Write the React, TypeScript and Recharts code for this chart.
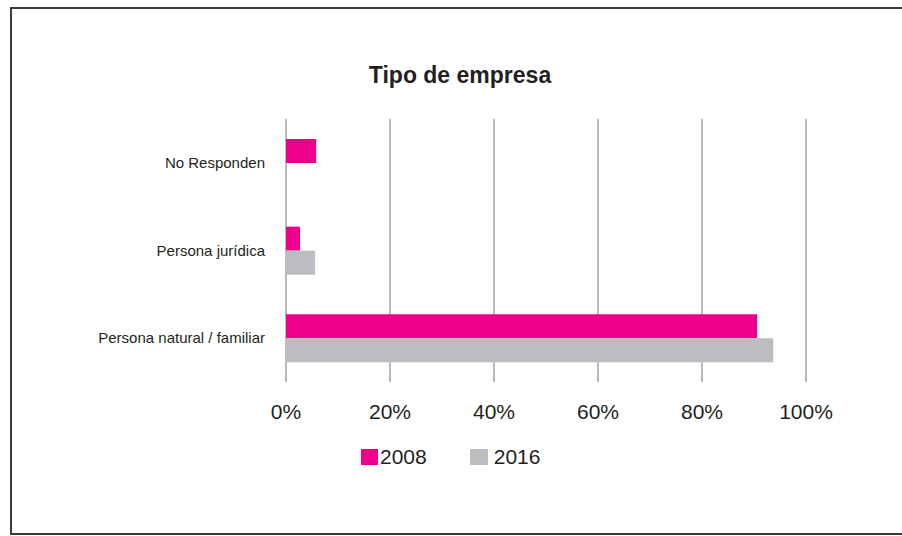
import { BarChart, Bar, XAxis, YAxis, CartesianGrid, Legend } from 'recharts'

const categories = ['No Responden', 'Persona jurídica', 'Persona natural / familiar']
const values2008 = [5.8, 2.7, 90.6]
const values2016 = [0, 5.6, 93.7]
const xTicks = [0, 20, 40, 60, 80, 100]

const data = categories.map((name, i) => ({
  name,
  y2008: values2008[i],
  y2016: values2016[i],
}))

const narrow = '"Liberation Sans Narrow", "Arial Narrow", "Liberation Sans", Arial, sans-serif'

const LegendContent = () => (
  <div style={{ display: 'flex', alignItems: 'center', fontFamily: narrow, fontSize: 21, color: '#231f20' }}>
    <span style={{ width: 17, height: 16, background: '#EC008C', display: 'inline-block', marginRight: 2 }} />
    <span>2008</span>
    <span style={{ width: 18, height: 16, background: '#BCBDC0', display: 'inline-block', marginLeft: 43, marginRight: 6 }} />
    <span>2016</span>
  </div>
)

export default function App() {
  return (
    <div style={{ position: 'absolute', left: 0, top: 0, width: 902, height: 536, background: '#fff', overflow: 'hidden' }}>
      <div
        style={{
          position: 'absolute',
          left: 10,
          top: 7,
          width: 910,
          height: 524,
          border: '2px solid #3a3a3a',
        }}
      />
      <div
        style={{
          position: 'absolute',
          left: 10,
          width: 900,
          top: 62,
          textAlign: 'center',
          fontFamily: '"Liberation Sans", Arial, sans-serif',
          fontWeight: 'bold',
          fontSize: 23,
          color: '#231f20',
        }}
      >
        Tipo de empresa
      </div>
      <div style={{ position: 'absolute', left: 0, top: 0 }}>
        <BarChart
          width={902}
          height={536}
          data={data}
          layout="vertical"
          margin={{ top: 119, right: 96, bottom: 90, left: 10 }}
          barSize={24}
          barGap={0}
        >
          <CartesianGrid horizontal={false} stroke="#a3a3a3" strokeWidth={1.5} />
          <XAxis
            type="number"
            domain={[0, 100]}
            ticks={xTicks}
            tickFormatter={(v) => `${v}%`}
            axisLine={false}
            tickLine={false}
            tickMargin={16}
            height={40}
            tick={{ fill: '#231f20', fontSize: 21, fontFamily: narrow }}
          />
          <YAxis
            type="category"
            dataKey="name"
            width={276}
            axisLine={false}
            tickLine={false}
            tickMargin={15}
            tick={{ fill: '#231f20', fontSize: 15, fontFamily: narrow }}
          />
          <Legend
            content={<LegendContent />}
            wrapperStyle={{ position: 'absolute', left: 361, top: 445, width: 'auto' }}
          />
          <Bar dataKey="y2008" name="2008" fill="#EC008C" isAnimationActive={false} />
          <Bar dataKey="y2016" name="2016" fill="#BCBDC0" isAnimationActive={false} />
        </BarChart>
      </div>
    </div>
  )
}
